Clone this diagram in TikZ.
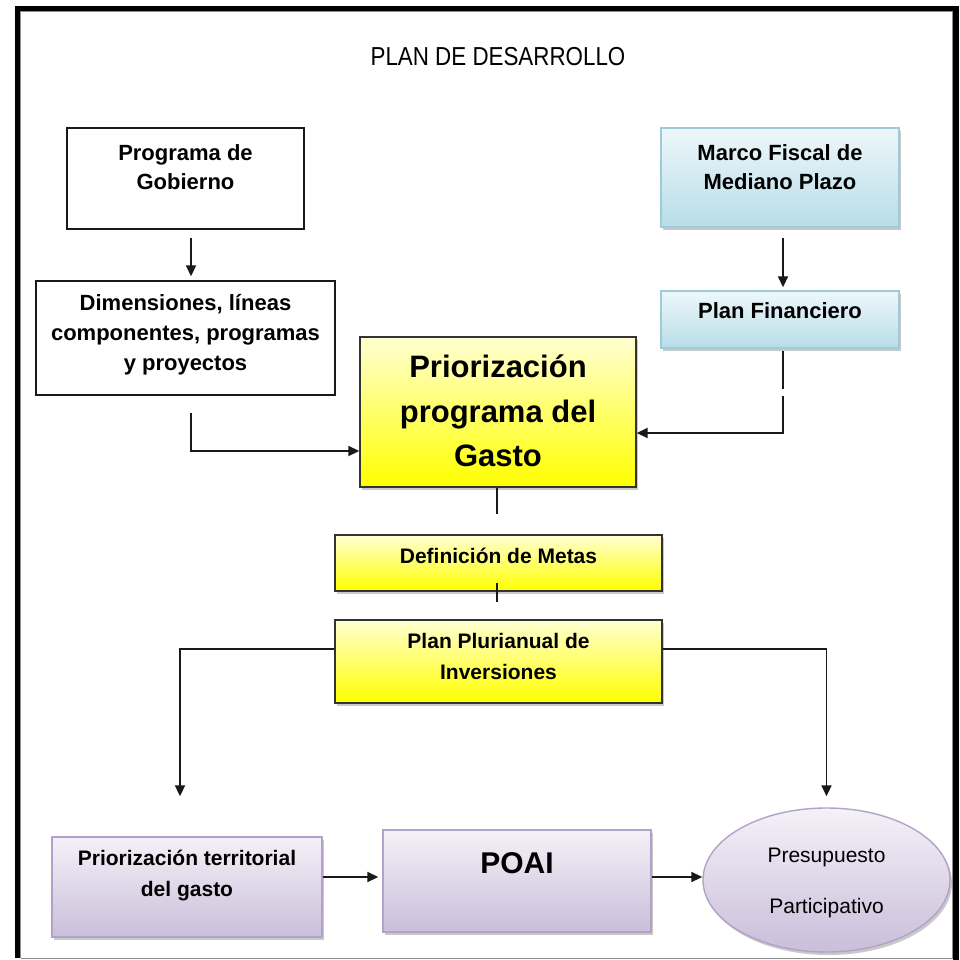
\documentclass[tikz,border=0pt]{standalone}
\usepackage{fontspec}
\setmainfont{Liberation Sans}
\newfontfamily\narrowfont[FakeStretch=0.86]{Liberation Sans}
\usetikzlibrary{arrows.meta,shadows,shapes.geometric}
\definecolor{bluetop}{HTML}{EEF7FA}
\definecolor{bluebot}{HTML}{B7DDE8}
\definecolor{blueedge}{HTML}{9FCBD8}
\definecolor{yeltop}{HTML}{FFFFD2}
\definecolor{yelbot}{HTML}{FFFF00}
\definecolor{purtop}{HTML}{F4F1F8}
\definecolor{purbot}{HTML}{CABEDA}
\definecolor{puredge}{HTML}{B3A2C8}
\tikzset{
  box/.style={draw, line width=1.4pt, inner sep=0pt},
  plainbox/.style={box, draw=black!90, fill=white},
  shad/.style={drop shadow={shadow xshift=2pt, shadow yshift=-3pt, opacity=0.35, fill=black!60}},
  bluebox/.style={box, shad, draw=blueedge, top color=bluetop, bottom color=bluebot},
  yelbox/.style={box, shad, draw=black!80, top color=yeltop, bottom color=yelbot},
  purbox/.style={box, shad, draw=puredge, top color=purtop, bottom color=purbot},
  txt/.style={font=\bfseries\fontsize{22}{29}\selectfont, align=center, inner sep=0pt, text=black},
  arr/.style={line width=1.8pt, draw=black!90, -{Triangle[length=11pt,width=10pt]}},
  ln/.style={line width=1.8pt, draw=black!90},
}
\begin{document}
\begin{tikzpicture}[x=1pt,y=-1pt]
\useasboundingbox (0,0) rectangle (959,960);
% frame
\fill[white] (0,0) rectangle (959,960);
\fill[black] (15,6) rectangle (959,11);
\fill[black] (15,6) rectangle (20,958);
\fill[black] (953,6) rectangle (959,960);
\draw[black!45, line width=1pt] (20.5,958) -- (953,958);
\draw[black!45, line width=0.8pt] (20.8,958) -- (20.8,11.8) -- (952.5,11.8) -- (952.5,958);

% title
\node[inner sep=0pt, font=\narrowfont\fontsize{26}{30}\selectfont] (title) at (498,57) {PLAN DE DESARROLLO};

% boxes
\node[plainbox, minimum width=237pt, minimum height=101pt] (gob) at (185.5,178.5) {};
\node[txt] (gobt) at (185.5,167) {Programa de\\Gobierno};

\node[plainbox, minimum width=299pt, minimum height=114pt] (dim) at (185.5,338) {};
\node[txt, font=\bfseries\fontsize{22}{30}\selectfont] (dimt) at (185.5,335) {Dimensiones, líneas\\componentes, programas\\y proyectos};

\node[bluebox, minimum width=238pt, minimum height=99pt] (marco) at (780,177.5) {};
\node[txt] (marcot) at (780,167) {Marco Fiscal de\\Mediano Plazo};

\node[bluebox, minimum width=238pt, minimum height=57pt] (fin) at (780,319.5) {};
\node[txt] (fint) at (780,311) {Plan Financiero};

\node[yelbox, minimum width=276pt, minimum height=150pt] (prio) at (498,412) {};
\node[txt, font=\bfseries\fontsize{31}{44.5}\selectfont] (priot) at (498,411) {Priorización\\programa del\\Gasto};

\node[yelbox, minimum width=327pt, minimum height=56pt] (metas) at (498.5,563) {};
\node[txt, font=\bfseries\fontsize{21}{29}\selectfont] (metast) at (498.5,556) {Definición de Metas};

\node[yelbox, minimum width=327pt, minimum height=83pt] (ppi) at (498.5,661.5) {};
\node[txt, font=\bfseries\fontsize{21}{31}\selectfont] (ppit) at (498.5,656.5) {Plan Plurianual de\\Inversiones};

\node[purbox, minimum width=270pt, minimum height=100pt] (terr) at (187,887) {};
\node[txt, font=\bfseries\fontsize{21}{31}\selectfont] (terrt) at (187,875.5) {Priorización territorial\\del gasto};

\node[purbox, minimum width=268pt, minimum height=102pt] (poai) at (517,881) {};
\node[txt, font=\bfseries\fontsize{30}{34}\selectfont] (poait) at (517,863) {POAI};

\node[purbox, ellipse, minimum width=247pt, minimum height=144pt] (pres) at (826.5,880) {};
\node[inner sep=0pt, font=\fontsize{21}{25}\selectfont] (prest1) at (826.5,857) {Presupuesto};
\node[inner sep=0pt, font=\fontsize{21}{25}\selectfont] (prest2) at (826.5,908) {Participativo};

% connectors
\draw[arr] ([xshift=5.5pt,yshift=-8pt]gob.south) -- ([xshift=5.5pt,yshift=4pt]dim.north);
\draw[arr] ([xshift=3pt,yshift=-10pt]marco.south) -- ([xshift=3pt,yshift=3pt]fin.north);

\draw[ln] ([xshift=5.5pt,yshift=-17pt]dim.south) -- ++(0,34);
\draw[arr] ([xshift=5.5pt,yshift=-17pt]dim.south) ++(0,33) |- ([yshift=-39pt]prio.west);

\draw[ln] ([xshift=3pt,yshift=-2pt]fin.south) -- ++(0,38);
\draw[arr] ([xshift=3pt,yshift=-47pt]fin.south) |- ([yshift=-21pt]prio.east);

\coordinate (pm) at ([xshift=-1pt,yshift=-26pt]prio.south);
\draw[ln] ([xshift=-1pt]prio.south) -- (pm);
\draw[ln] ([xshift=-1.5pt,yshift=9pt]metas.south) -- ([xshift=-1.5pt,yshift=17pt]ppi.north);

\draw[arr] ([yshift=12.5pt]ppi.west) -| ([xshift=-7pt,yshift=40pt]terr.north);
\draw[arr] ([yshift=12.5pt]ppi.east) -| ([yshift=11pt]pres.north);

\draw[arr, shorten >=4pt] ([yshift=10pt]terr.east) -- ([yshift=10pt]terr.east -| poai.west);
\draw[arr] ([yshift=4pt]poai.east) -- ([yshift=4pt]poai.east -| pres.west);
\end{tikzpicture}
\end{document}
